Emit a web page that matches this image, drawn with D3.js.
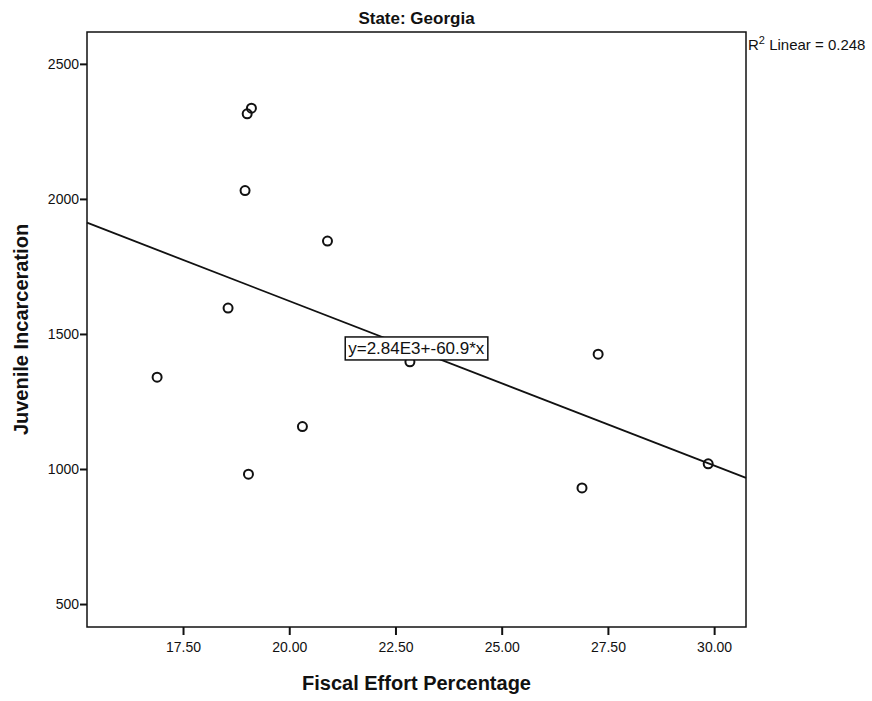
<!DOCTYPE html>
<html>
<head>
<meta charset="utf-8">
<script src="https://cdnjs.cloudflare.com/ajax/libs/d3/7.8.5/d3.min.js"></script>
<style>
	body { margin: 0; background: #fff; }
	text { font-family: "Liberation Sans Narrow", "Liberation Sans", Arial, sans-serif; fill: #111; }
	.title { font-family: "Liberation Sans", Arial, sans-serif; font-weight: bold; font-size: 17px; }
	.axis-title { font-family: "Liberation Sans", Arial, sans-serif; font-weight: bold; font-size: 20px; }
	.tick text { font-size: 14px; }
	.axis path, .axis line { stroke: #111; }
</style>
</head>
<body>
<div class="scatter"></div>
<script>
// fiscal effort (%) and juvenile incarceration, one entry per year
const fiscalEffort = [19.11, 19.01, 18.96, 20.90, 18.56, 16.89, 20.31, 19.04, 22.84, 27.27, 26.89, 29.86];
const incarceration = [2336, 2315, 2031, 1844, 1596, 1340, 1157, 981, 1397, 1425, 930, 1019];

const xTicks = [17.5, 20, 22.5, 25, 27.5, 30];
const yTicks = [500, 1000, 1500, 2000, 2500];

// fit reported on the chart
const fitIntercept = 2840;
const fitSlope = -60.9;
const rSquared = 0.248;

const svg = d3.select(".scatter")
				.append("svg")
				.attr("width", 872)
				.attr("height", 701);

const plot = { left: 87, right: 746, top: 32, bottom: 627 };

// scales
const scaleX = d3.scaleLinear().domain([15.24, 30.75]).range([plot.left, plot.right]);
const scaleY = d3.scaleLinear().domain([415, 2618]).range([plot.bottom, plot.top]);

// frame
svg.append("rect")
	.attr("x", plot.left)
	.attr("y", plot.top)
	.attr("width", plot.right - plot.left)
	.attr("height", plot.bottom - plot.top)
	.attr("fill", "#fff")
	.attr("stroke", "#111")
	.attr("stroke-width", 1.5);

// axes
svg.append("g")
	.attr("class", "axis")
	.attr("transform", `translate(0, ${plot.bottom})`)
	.call(d3.axisBottom(scaleX).tickValues(xTicks).tickFormat(d3.format(".2f")).tickSize(8).tickSizeOuter(0))
	.call((g) => g.select(".domain").remove())
	.call((g) => g.selectAll(".tick line").attr("stroke-width", 2))
	.call((g) => g.selectAll(".tick text").attr("dy", "1.0em"));

svg.append("g")
	.attr("class", "axis")
	.attr("transform", `translate(${plot.left}, 0)`)
	.call(d3.axisLeft(scaleY).tickValues(yTicks).tickFormat(d3.format("d")).tickSize(7).tickPadding(1).tickSizeOuter(0))
	.call((g) => g.select(".domain").remove())
	.call((g) => g.selectAll(".tick line").attr("stroke-width", 2));

// regression line
const fitX = scaleX.domain();
svg.append("path")
	.datum(fitX.map((x) => ({ x, y: fitIntercept + fitSlope * x })))
	.attr("fill", "none")
	.attr("stroke", "#111")
	.attr("stroke-width", 1.8)
	.attr("d", d3.line().x((d) => scaleX(d.x)).y((d) => scaleY(d.y)));

// points
svg.selectAll(".point")
	.data(fiscalEffort.map((x, i) => ({ x, y: incarceration[i] })))
	.enter()
	.append("circle")
		.attr("class", "point")
		.attr("cx", (d) => scaleX(d.x))
		.attr("cy", (d) => scaleY(d.y))
		.attr("r", 4.5)
		.attr("fill", "none")
		.attr("stroke", "#111")
		.attr("stroke-width", 2);

// equation label
const eq = svg.append("g")
				.attr("transform", `translate(${scaleX(22.99)}, ${scaleY(1448)})`);
const eqText = eq.append("text")
				.attr("text-anchor", "middle")
				.attr("dy", "0.35em")
				.style("font-size", "17px")
				.text(`y=${(fitIntercept / 1000).toFixed(2)}E3+${fitSlope}*x`);
const bb = eqText.node().getBBox();
eq.insert("rect", "text")
	.attr("x", bb.x - 3)
	.attr("y", bb.y - 2)
	.attr("width", bb.width + 6)
	.attr("height", bb.height + 4)
	.attr("fill", "#fff")
	.attr("stroke", "#111")
	.attr("stroke-width", 1.5);

// R squared
const r2 = svg.append("text")
	.attr("x", plot.right + 2)
	.attr("y", 50)
	.style("font-size", "15px");
r2.append("tspan").text("R");
r2.append("tspan").attr("dy", -6).style("font-size", "11px").text("2");
r2.append("tspan").attr("dy", 6).text(` Linear = ${rSquared}`);

// titles
svg.append("text")
	.attr("class", "title")
	.attr("x", (plot.left + plot.right) / 2)
	.attr("y", 24)
	.attr("text-anchor", "middle")
	.text("State: Georgia");

svg.append("text")
	.attr("class", "axis-title")
	.attr("x", (plot.left + plot.right) / 2)
	.attr("y", 690)
	.attr("text-anchor", "middle")
	.text("Fiscal Effort Percentage");

svg.append("text")
	.attr("class", "axis-title")
	.attr("transform", `translate(28, ${(plot.top + plot.bottom) / 2}) rotate(-90)`)
	.attr("text-anchor", "middle")
	.text("Juvenile Incarceration");
</script>
</body>
</html>
